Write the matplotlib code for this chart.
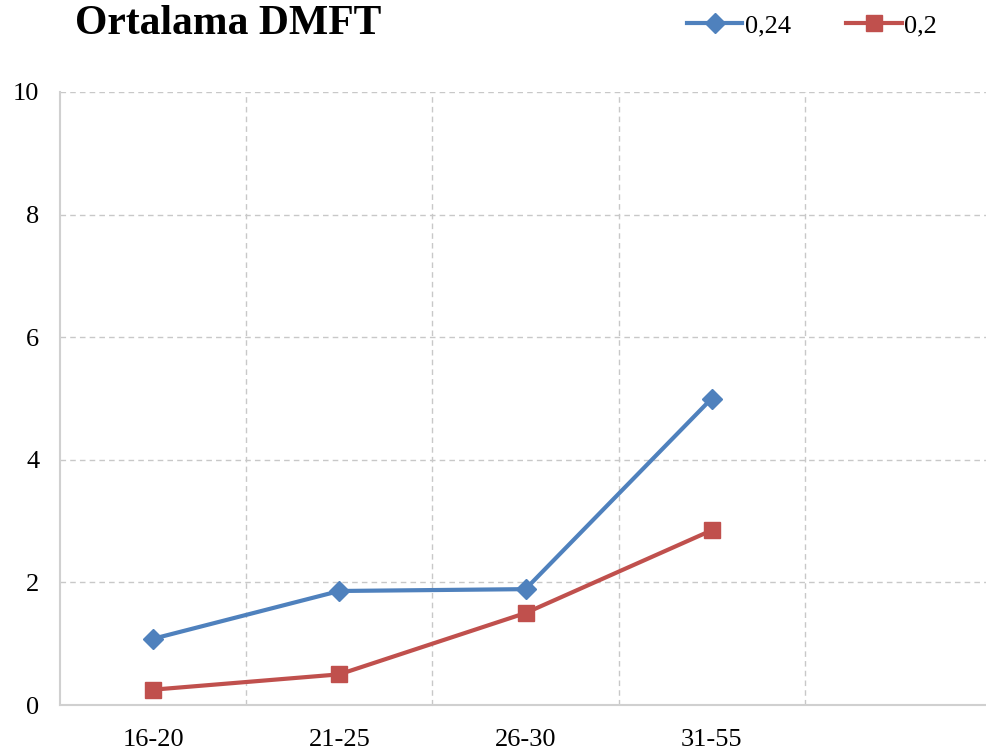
import matplotlib
matplotlib.use('Agg')
import matplotlib.pyplot as plt

categories = ['16-20', '21-25', '26-30', '31-55']
series_024 = [1.08, 1.86, 1.89, 5.0]
series_02 = [0.25, 0.5, 1.5, 2.85]
y_ticks = [0, 2, 4, 6, 8, 10]

plt.rcParams['font.family'] = ['Liberation Serif', 'DejaVu Serif']

fig = plt.figure(figsize=(9.87, 7.56), dpi=100)
ax = fig.add_axes([60 / 987, 1 - 705 / 756, 931 / 987, 613 / 756])

x = list(range(len(categories)))
ax.plot(x, series_024, color='#4F81BD', lw=3, marker='D', ms=10.5, label='0,24', zorder=3)
ax.plot(x, series_02, color='#C0504D', lw=3, marker='s', ms=11, label='0,2', zorder=3)

ax.set_xlim(-0.5, 4.5)
ax.set_ylim(0, 10)
ax.set_yticks(y_ticks)
ax.set_xticks(x)
ax.set_xticklabels(categories)

# grid: horizontal on ticks, vertical between categories
for y in y_ticks[1:]:
    ax.axhline(y, color='#C8C8C8', lw=1, ls=(0, (4, 3)), zorder=1)
for b in [0.5, 1.5, 2.5, 3.5]:
    ax.axvline(b, color='#C8C8C8', lw=1, ls=(0, (4, 3)), zorder=1)

for s in ['top', 'right']:
    ax.spines[s].set_visible(False)
for s in ['left', 'bottom']:
    ax.spines[s].set_color('#D0D0D0')
    ax.spines[s].set_linewidth(1.5)

ax.tick_params(axis='both', length=0, labelsize=19)
ax.tick_params(axis='y', pad=15)
ax.tick_params(axis='x', pad=17)

fig.text(75 / 987, 1 - 24 / 756, 'Ortalama DMFT', fontsize=30, fontweight='bold',
         va='center', ha='left')

ax.legend(loc='center', bbox_to_anchor=(812 / 987, 1 - 26 / 756), bbox_transform=fig.transFigure,
          ncol=2, frameon=False, fontsize=19, handlelength=2.1, handletextpad=0.1,
          columnspacing=2.1)

fig.savefig('out.png', dpi=100)
